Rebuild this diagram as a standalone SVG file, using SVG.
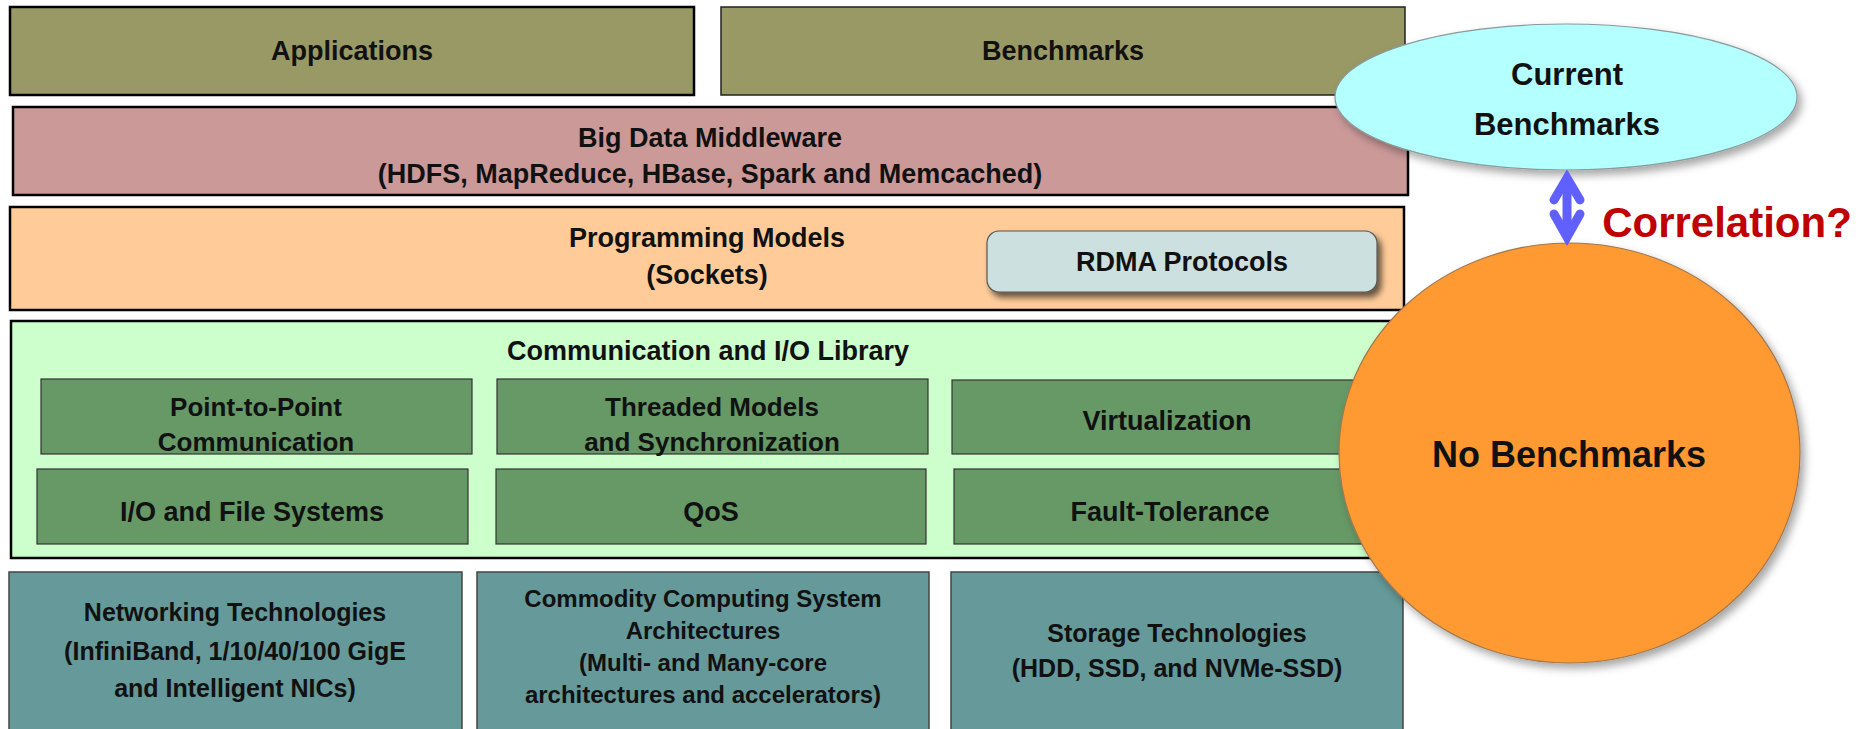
<svg xmlns="http://www.w3.org/2000/svg" width="1860" height="729" viewBox="0 0 1860 729">
<style>
text{font-family:"Liberation Sans",Arial,sans-serif;font-weight:bold;fill:#111;text-anchor:middle}
.t27{font-size:27px}
.t26{font-size:26px}
.t25{font-size:25px}
.t24{font-size:24px}
.layer{stroke:#000;stroke-width:2.5}
.inner{fill:#669966;stroke:#333;stroke-width:1.2}
.hw{fill:#669999;stroke:#444;stroke-width:1.5}
.arrow{fill:none;stroke:#6060ff;stroke-width:9;stroke-linecap:round;stroke-linejoin:miter}
</style>
<defs>
<filter id="sh" x="-20%" y="-20%" width="140%" height="140%">
<feDropShadow dx="4" dy="5" stdDeviation="4" flood-color="#000" flood-opacity="0.35"/>
</filter>
<filter id="sh2" x="-10%" y="-30%" width="120%" height="160%">
<feDropShadow dx="4" dy="5" stdDeviation="3" flood-color="#000" flood-opacity="0.6"/>
</filter>
</defs>
<rect width="1860" height="729" fill="#fff"/>

<g id="applications">
<rect x="10" y="7" width="684" height="88" fill="#999966" class="layer"/>
<text x="352" y="60" class="t27">Applications</text>
</g>
<g id="benchmarks">
<rect x="721" y="7" width="684" height="88" fill="#999966" stroke="#222" stroke-width="1.5"/>
<text x="1063" y="60" class="t27">Benchmarks</text>
</g>
<g id="big-data-middleware">
<rect x="13" y="107" width="1395" height="88" fill="#cc9999" class="layer"/>
<text x="710" y="147" class="t27">Big Data Middleware</text>
<text x="710" y="183" class="t27">(HDFS, MapReduce, HBase, Spark and Memcached)</text>
</g>
<g id="programming-models">
<rect x="10" y="207" width="1394" height="103" fill="#ffcc99" class="layer"/>
<text x="707" y="247" class="t27">Programming Models</text>
<text x="707" y="284" class="t27">(Sockets)</text>
</g>
<g id="rdma-protocols">
<rect x="987" y="231" width="390" height="61" rx="12" fill="#cce0e0" stroke="#555" stroke-width="1.2" filter="url(#sh2)"/>
<text x="1182" y="271" class="t27">RDMA Protocols</text>
</g>
<g id="comm-io-library">
<rect x="11" y="321" width="1393" height="237" fill="#ccffcc" class="layer"/>
<text x="708" y="360" class="t27">Communication and I/O Library</text>
</g>
<g id="point-to-point">
<rect x="41" y="379" width="431" height="75" class="inner"/>
<text x="256" y="416" class="t26">Point-to-Point</text>
<text x="256" y="451" class="t26">Communication</text>
</g>
<g id="threaded-models">
<rect x="497" y="379" width="431" height="75" class="inner"/>
<text x="712" y="416" class="t26">Threaded Models</text>
<text x="712" y="451" class="t26">and Synchronization</text>
</g>
<g id="virtualization">
<rect x="952" y="380" width="431" height="74" class="inner"/>
<text x="1167" y="430" class="t27">Virtualization</text>
</g>
<g id="io-file-systems">
<rect x="37" y="469" width="431" height="75" class="inner"/>
<text x="252" y="521" class="t27">I/O and File Systems</text>
</g>
<g id="qos">
<rect x="496" y="469" width="430" height="75" class="inner"/>
<text x="711" y="521" class="t27">QoS</text>
</g>
<g id="fault-tolerance">
<rect x="954" y="469" width="431" height="75" class="inner"/>
<text x="1170" y="521" class="t27">Fault-Tolerance</text>
</g>
<g id="networking">
<rect x="9" y="572" width="453" height="170" class="hw"/>
<text x="235" y="621" class="t25">Networking Technologies</text>
<text x="235" y="660" class="t25">(InfiniBand, 1/10/40/100 GigE</text>
<text x="235" y="697" class="t25">and Intelligent NICs)</text>
</g>
<g id="commodity">
<rect x="477" y="572" width="452" height="170" class="hw"/>
<text x="703" y="607" class="t24">Commodity Computing System</text>
<text x="703" y="639" class="t24">Architectures</text>
<text x="703" y="671" class="t24">(Multi- and Many-core</text>
<text x="703" y="703" class="t24">architectures and accelerators)</text>
</g>
<g id="storage">
<rect x="951" y="572" width="452" height="170" class="hw"/>
<text x="1177" y="642" class="t25">Storage Technologies</text>
<text x="1177" y="677" class="t25">(HDD, SSD, and NVMe-SSD)</text>
</g>

<g id="current-benchmarks">
<ellipse cx="1566" cy="97" rx="231" ry="73" fill="#b4ffff" stroke="#8a9a9a" stroke-width="1.2" filter="url(#sh)"/>
<text x="1567" y="85" style="font-size:31px">Current</text>
<text x="1567" y="135" style="font-size:31px">Benchmarks</text>
</g>
<g id="no-benchmarks">
<ellipse cx="1569.5" cy="453" rx="230.5" ry="210" fill="#ff9933" stroke="#a07850" stroke-width="1.2" filter="url(#sh)"/>
<text x="1569" y="467" style="font-size:36px">No Benchmarks</text>
</g>

<g id="connectors">
<line x1="1567" y1="182" x2="1567" y2="233" class="arrow"/>
<polyline points="1554,200 1567,178 1580,200" class="arrow"/>
<polyline points="1554,214 1567,237 1580,214" class="arrow"/>
<text x="1727" y="237" style="font-size:42px;fill:#c00000">Correlation?</text>
</g>
</svg>
